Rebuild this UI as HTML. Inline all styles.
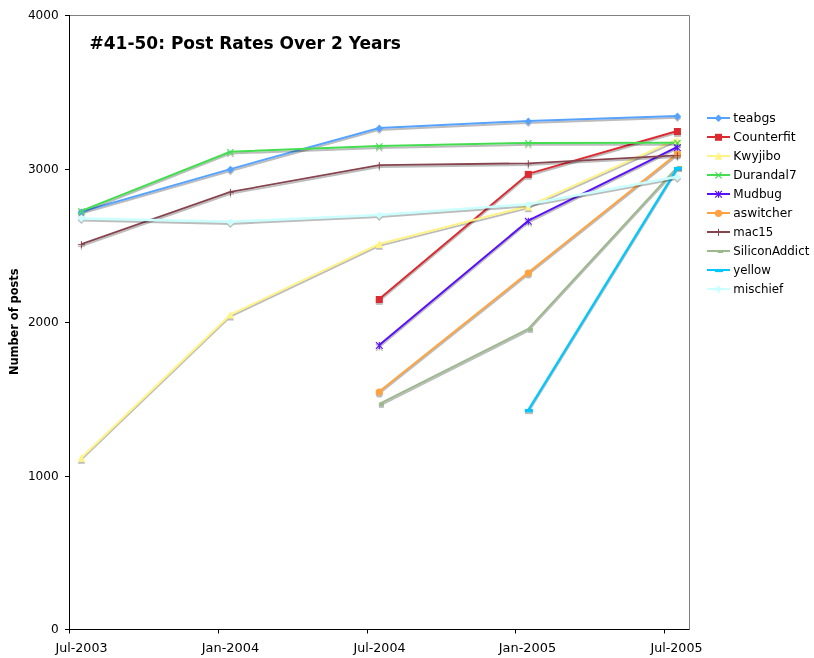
<!DOCTYPE html>
<html lang="en">
<head>
<meta charset="utf-8">
<title>#41-50: Post Rates Over 2 Years</title>
<style>
html,body{margin:0;padding:0;background:#fff;}
body{width:814px;height:658px;overflow:hidden;}
svg{display:block;will-change:transform;}
text{font-family:"DejaVu Sans","Liberation Sans",sans-serif;fill:#000;}
.t{font-size:12px;}
.b{font-weight:bold;}
</style>
</head>
<body>
<svg width="814" height="658" viewBox="0 0 814 658">
<rect width="814" height="658" fill="#fff"/>

<path d="M69.5 15.5H689.5V629.5" fill="none" stroke="#808080" stroke-width="1"/>
<g transform="translate(0,1.9)" opacity="0.26">
<path d="M81.40 211.70L230.40 169.10L379.30 128.00L528.30 121.00L677.40 115.90" fill="none" stroke="#000" stroke-width="2.0" stroke-linejoin="round"/>
<path d="M77.60 212.20L81.40 208.40L85.20 212.20L81.40 216.00Z" fill="#000"/>
<path d="M226.60 169.60L230.40 165.80L234.20 169.60L230.40 173.40Z" fill="#000"/>
<path d="M375.50 128.40L379.30 124.60L383.10 128.40L379.30 132.20Z" fill="#000"/>
<path d="M524.50 121.40L528.30 117.60L532.10 121.40L528.30 125.20Z" fill="#000"/>
<path d="M673.60 116.40L677.40 112.60L681.20 116.40L677.40 120.20Z" fill="#000"/>
</g>
<path d="M81.40 211.70L230.40 169.10L379.30 128.00L528.30 121.00L677.40 115.90" fill="none" stroke="#56A2FF" stroke-width="2.0" stroke-linejoin="round"/>
<g transform="translate(0,1.9)" opacity="0.26">
<path d="M379.30 299.00L528.30 173.90L677.40 131.00" fill="none" stroke="#000" stroke-width="2.0" stroke-linejoin="round"/>
<rect x="375.80" y="296.00" width="7" height="7" fill="#000"/>
<rect x="524.80" y="170.90" width="7" height="7" fill="#000"/>
<rect x="673.90" y="128.00" width="7" height="7" fill="#000"/>
</g>
<path d="M379.30 299.00L528.30 173.90L677.40 131.00" fill="none" stroke="#DC2A31" stroke-width="2.0" stroke-linejoin="round"/>
<g transform="translate(0,1.9)" opacity="0.26">
<path d="M81.40 457.70L230.40 314.70L379.30 244.00L528.30 206.20L677.40 139.20" fill="none" stroke="#000" stroke-width="2.0" stroke-linejoin="round"/>
<path d="M81.40 454.30L85.10 461.90L77.70 461.90Z" fill="#000"/>
<path d="M230.40 311.00L234.10 318.60L226.70 318.60Z" fill="#000"/>
<path d="M379.30 240.30L383.00 247.90L375.60 247.90Z" fill="#000"/>
<path d="M528.30 202.80L532.00 210.40L524.60 210.40Z" fill="#000"/>
<path d="M677.40 136.80L681.10 144.40L673.70 144.40Z" fill="#000"/>
</g>
<path d="M81.40 457.70L230.40 314.70L379.30 244.00L528.30 206.20L677.40 139.20" fill="none" stroke="#FFF385" stroke-width="2.0" stroke-linejoin="round"/>
<g transform="translate(0,1.9)" opacity="0.26">
<path d="M81.40 210.90L230.40 151.70L379.30 146.00L528.30 142.90L677.40 142.80" fill="none" stroke="#000" stroke-width="2.0" stroke-linejoin="round"/>
<path d="M78.30 208.30L84.50 214.50M78.30 214.50L84.50 208.30" stroke="#000" stroke-width="1.15" fill="none"/>
<path d="M227.30 149.10L233.50 155.30M227.30 155.30L233.50 149.10" stroke="#000" stroke-width="1.15" fill="none"/>
<path d="M376.20 143.30L382.40 149.50M376.20 149.50L382.40 143.30" stroke="#000" stroke-width="1.15" fill="none"/>
<path d="M525.20 140.20L531.40 146.40M525.20 146.40L531.40 140.20" stroke="#000" stroke-width="1.15" fill="none"/>
<path d="M674.30 140.00L680.50 146.20M674.30 146.20L680.50 140.00" stroke="#000" stroke-width="1.15" fill="none"/>
</g>
<path d="M81.40 210.90L230.40 151.70L379.30 146.00L528.30 142.90L677.40 142.80" fill="none" stroke="#42DE50" stroke-width="2.0" stroke-linejoin="round"/>
<g transform="translate(0,1.9)" opacity="0.26">
<path d="M379.30 345.00L528.30 220.70L677.40 146.80" fill="none" stroke="#000" stroke-width="2.0" stroke-linejoin="round"/>
<path d="M375.90 342.10L382.70 348.90M375.90 348.90L382.70 342.10M379.30 342.10L379.30 348.90" stroke="#000" stroke-width="1.15" fill="none"/>
<path d="M524.90 217.80L531.70 224.60M524.90 224.60L531.70 217.80M528.30 217.80L528.30 224.60" stroke="#000" stroke-width="1.15" fill="none"/>
<path d="M674.00 144.40L680.80 151.20M674.00 151.20L680.80 144.40M677.40 144.40L677.40 151.20" stroke="#000" stroke-width="1.15" fill="none"/>
</g>
<path d="M379.30 345.00L528.30 220.70L677.40 146.80" fill="none" stroke="#5A10FA" stroke-width="2.0" stroke-linejoin="round"/>
<g transform="translate(0,1.9)" opacity="0.26">
<path d="M379.30 391.50L528.30 272.60L677.40 153.50" fill="none" stroke="#000" stroke-width="2.0" stroke-linejoin="round"/>
<circle cx="379.30" cy="392.00" r="3.6" fill="#000"/>
<circle cx="528.30" cy="273.10" r="3.6" fill="#000"/>
<circle cx="677.40" cy="154.20" r="3.6" fill="#000"/>
</g>
<path d="M379.30 391.50L528.30 272.60L677.40 153.50" fill="none" stroke="#FFA23F" stroke-width="2.0" stroke-linejoin="round"/>
<g transform="translate(0,1.9)" opacity="0.26">
<path d="M81.40 244.20L230.40 191.90L379.30 165.10L528.30 163.30L677.40 155.30" fill="none" stroke="#000" stroke-width="1.8" stroke-linejoin="round"/>
<path d="M77.90 244.70L84.90 244.70M81.40 241.20L81.40 248.20" stroke="#000" stroke-width="1" fill="none"/>
<path d="M226.90 192.40L233.90 192.40M230.40 188.90L230.40 195.90" stroke="#000" stroke-width="1" fill="none"/>
<path d="M375.80 165.60L382.80 165.60M379.30 162.10L379.30 169.10" stroke="#000" stroke-width="1" fill="none"/>
<path d="M524.80 163.80L531.80 163.80M528.30 160.30L528.30 167.30" stroke="#000" stroke-width="1" fill="none"/>
<path d="M673.90 155.80L680.90 155.80M677.40 152.30L677.40 159.30" stroke="#000" stroke-width="1" fill="none"/>
</g>
<path d="M81.40 244.20L230.40 191.90L379.30 165.10L528.30 163.30L677.40 155.30" fill="none" stroke="#86444F" stroke-width="1.8" stroke-linejoin="round"/>
<g transform="translate(0,1.9)" opacity="0.26">
<path d="M379.30 403.90L528.30 328.90L677.40 167.10" fill="none" stroke="#000" stroke-width="2.0" stroke-linejoin="round"/>
<rect x="378.90" y="402.80" width="5" height="3.2" fill="#000"/>
<rect x="527.90" y="327.80" width="5" height="3.2" fill="#000"/>
<rect x="677.00" y="166.00" width="5" height="3.2" fill="#000"/>
</g>
<path d="M379.30 403.90L528.30 328.90L677.40 167.10" fill="none" stroke="#9CB98D" stroke-width="2.0" stroke-linejoin="round"/>
<g transform="translate(0,1.9)" opacity="0.26">
<path d="M528.30 410.10L677.40 168.10" fill="none" stroke="#000" stroke-width="2.3" stroke-linejoin="round"/>
<rect x="524.90" y="408.95" width="8" height="3.3" fill="#000"/>
<rect x="674.00" y="166.95" width="8" height="3.3" fill="#000"/>
</g>
<path d="M528.30 410.10L677.40 168.10" fill="none" stroke="#00C8FF" stroke-width="2.3" stroke-linejoin="round"/>
<g transform="translate(0,1.9)" opacity="0.26">
<path d="M81.40 218.40L230.40 221.80L379.30 214.90L528.30 204.20L677.40 176.70" fill="none" stroke="#000" stroke-width="2.5" stroke-linejoin="round"/>
<path d="M77.60 218.40L81.40 214.60L85.20 218.40L81.40 222.20Z" fill="#000"/>
<path d="M226.60 222.40L230.40 218.60L234.20 222.40L230.40 226.20Z" fill="#000"/>
<path d="M375.50 215.30L379.30 211.50L383.10 215.30L379.30 219.10Z" fill="#000"/>
<path d="M524.50 204.70L528.30 200.90L532.10 204.70L528.30 208.50Z" fill="#000"/>
<path d="M673.60 177.20L677.40 173.40L681.20 177.20L677.40 181.00Z" fill="#000"/>
</g>
<path d="M81.40 218.40L230.40 221.80L379.30 214.90L528.30 204.20L677.40 176.70" fill="none" stroke="#CCFFFF" stroke-width="2.5" stroke-linejoin="round"/>
<path d="M77.60 212.20L81.40 208.40L85.20 212.20L81.40 216.00Z" fill="#56A2FF"/>
<path d="M226.60 169.60L230.40 165.80L234.20 169.60L230.40 173.40Z" fill="#56A2FF"/>
<path d="M375.50 128.40L379.30 124.60L383.10 128.40L379.30 132.20Z" fill="#56A2FF"/>
<path d="M524.50 121.40L528.30 117.60L532.10 121.40L528.30 125.20Z" fill="#56A2FF"/>
<path d="M673.60 116.40L677.40 112.60L681.20 116.40L677.40 120.20Z" fill="#56A2FF"/>
<rect x="375.80" y="296.00" width="7" height="7" fill="#DC2A31"/>
<rect x="524.80" y="170.90" width="7" height="7" fill="#DC2A31"/>
<rect x="673.90" y="128.00" width="7" height="7" fill="#DC2A31"/>
<path d="M81.40 454.30L85.10 461.90L77.70 461.90Z" fill="#FFF385"/>
<path d="M230.40 311.00L234.10 318.60L226.70 318.60Z" fill="#FFF385"/>
<path d="M379.30 240.30L383.00 247.90L375.60 247.90Z" fill="#FFF385"/>
<path d="M528.30 202.80L532.00 210.40L524.60 210.40Z" fill="#FFF385"/>
<path d="M677.40 136.80L681.10 144.40L673.70 144.40Z" fill="#FFF385"/>
<path d="M78.30 208.30L84.50 214.50M78.30 214.50L84.50 208.30" stroke="#42DE50" stroke-width="1.15" fill="none"/>
<path d="M227.30 149.10L233.50 155.30M227.30 155.30L233.50 149.10" stroke="#42DE50" stroke-width="1.15" fill="none"/>
<path d="M376.20 143.30L382.40 149.50M376.20 149.50L382.40 143.30" stroke="#42DE50" stroke-width="1.15" fill="none"/>
<path d="M525.20 140.20L531.40 146.40M525.20 146.40L531.40 140.20" stroke="#42DE50" stroke-width="1.15" fill="none"/>
<path d="M674.30 140.00L680.50 146.20M674.30 146.20L680.50 140.00" stroke="#42DE50" stroke-width="1.15" fill="none"/>
<path d="M375.90 342.10L382.70 348.90M375.90 348.90L382.70 342.10M379.30 342.10L379.30 348.90" stroke="#5A10FA" stroke-width="1.15" fill="none"/>
<path d="M524.90 217.80L531.70 224.60M524.90 224.60L531.70 217.80M528.30 217.80L528.30 224.60" stroke="#5A10FA" stroke-width="1.15" fill="none"/>
<path d="M674.00 144.40L680.80 151.20M674.00 151.20L680.80 144.40M677.40 144.40L677.40 151.20" stroke="#5A10FA" stroke-width="1.15" fill="none"/>
<circle cx="379.30" cy="392.00" r="3.6" fill="#FFA23F"/>
<circle cx="528.30" cy="273.10" r="3.6" fill="#FFA23F"/>
<circle cx="677.40" cy="154.20" r="3.6" fill="#FFA23F"/>
<path d="M77.90 244.70L84.90 244.70M81.40 241.20L81.40 248.20" stroke="#86444F" stroke-width="1" fill="none"/>
<path d="M226.90 192.40L233.90 192.40M230.40 188.90L230.40 195.90" stroke="#86444F" stroke-width="1" fill="none"/>
<path d="M375.80 165.60L382.80 165.60M379.30 162.10L379.30 169.10" stroke="#86444F" stroke-width="1" fill="none"/>
<path d="M524.80 163.80L531.80 163.80M528.30 160.30L528.30 167.30" stroke="#86444F" stroke-width="1" fill="none"/>
<path d="M673.90 155.80L680.90 155.80M677.40 152.30L677.40 159.30" stroke="#86444F" stroke-width="1" fill="none"/>
<rect x="378.90" y="402.80" width="5" height="3.2" fill="#9CB98D"/>
<rect x="527.90" y="327.80" width="5" height="3.2" fill="#9CB98D"/>
<rect x="677.00" y="166.00" width="5" height="3.2" fill="#9CB98D"/>
<rect x="524.90" y="408.95" width="8" height="3.3" fill="#00C8FF"/>
<rect x="674.00" y="166.95" width="8" height="3.3" fill="#00C8FF"/>
<path d="M77.60 218.40L81.40 214.60L85.20 218.40L81.40 222.20Z" fill="#CCFFFF"/>
<path d="M226.60 222.40L230.40 218.60L234.20 222.40L230.40 226.20Z" fill="#CCFFFF"/>
<path d="M375.50 215.30L379.30 211.50L383.10 215.30L379.30 219.10Z" fill="#CCFFFF"/>
<path d="M524.50 204.70L528.30 200.90L532.10 204.70L528.30 208.50Z" fill="#CCFFFF"/>
<path d="M673.60 177.20L677.40 173.40L681.20 177.20L677.40 181.00Z" fill="#CCFFFF"/>
<path d="M69.5 15V633M65 629.5H689.5" fill="none" stroke="#000" stroke-width="1"/>
<path d="M65 629.5H70" stroke="#000" stroke-width="1"/>
<text class="t" x="51.00" y="632.80" textLength="7.70" lengthAdjust="spacingAndGlyphs">0</text>
<path d="M65 476.5H70" stroke="#000" stroke-width="1"/>
<text class="t" x="27.90" y="479.80" textLength="30.80" lengthAdjust="spacingAndGlyphs">1000</text>
<path d="M65 322.5H70" stroke="#000" stroke-width="1"/>
<text class="t" x="27.90" y="325.80" textLength="30.80" lengthAdjust="spacingAndGlyphs">2000</text>
<path d="M65 169.5H70" stroke="#000" stroke-width="1"/>
<text class="t" x="27.90" y="172.80" textLength="30.80" lengthAdjust="spacingAndGlyphs">3000</text>
<path d="M65 15.5H70" stroke="#000" stroke-width="1"/>
<text class="t" x="27.90" y="18.80" textLength="30.80" lengthAdjust="spacingAndGlyphs">4000</text>
<path d="M69.5 629V633.5" stroke="#000" stroke-width="1"/>
<text class="t" x="55.50" y="651.5" textLength="52" lengthAdjust="spacingAndGlyphs">Jul-2003</text>
<path d="M218.5 629V633.5" stroke="#000" stroke-width="1"/>
<text class="t" x="201.75" y="651.5" textLength="57.5" lengthAdjust="spacingAndGlyphs">Jan-2004</text>
<path d="M367.5 629V633.5" stroke="#000" stroke-width="1"/>
<text class="t" x="353.50" y="651.5" textLength="52" lengthAdjust="spacingAndGlyphs">Jul-2004</text>
<path d="M515.5 629V633.5" stroke="#000" stroke-width="1"/>
<text class="t" x="498.75" y="651.5" textLength="57.5" lengthAdjust="spacingAndGlyphs">Jan-2005</text>
<path d="M664.5 629V633.5" stroke="#000" stroke-width="1"/>
<text class="t" x="650.50" y="651.5" textLength="52" lengthAdjust="spacingAndGlyphs">Jul-2005</text>
<text class="b" style="font-size:17px" x="89.5" y="49" textLength="311.5" lengthAdjust="spacingAndGlyphs">#41-50: Post Rates Over 2 Years</text>
<text class="b" style="font-size:11.5px" transform="translate(18.3,375) rotate(-90)" textLength="106.5" lengthAdjust="spacingAndGlyphs">Number of posts</text>
<path d="M707 118H730" stroke="#56A2FF" stroke-width="2" fill="none"/>
<path d="M714.70 118.30L718.50 114.50L722.30 118.30L718.50 122.10Z" fill="#56A2FF"/>
<text class="t" x="733.3" y="122.3" textLength="42.5" lengthAdjust="spacingAndGlyphs">teabgs</text>
<path d="M707 137H730" stroke="#DC2A31" stroke-width="2" fill="none"/>
<rect x="715.00" y="133.80" width="7" height="7" fill="#DC2A31"/>
<text class="t" x="733.3" y="141.3" textLength="62.3" lengthAdjust="spacingAndGlyphs">Counterfit</text>
<path d="M707 156H730" stroke="#FFF385" stroke-width="2" fill="none"/>
<path d="M718.50 152.10L722.20 159.70L714.80 159.70Z" fill="#FFF385"/>
<text class="t" x="733.3" y="160.3" textLength="47.5" lengthAdjust="spacingAndGlyphs">Kwyjibo</text>
<path d="M707 175H730" stroke="#42DE50" stroke-width="2" fill="none"/>
<path d="M715.40 172.20L721.60 178.40M715.40 178.40L721.60 172.20" stroke="#42DE50" stroke-width="1.15" fill="none"/>
<text class="t" x="733.3" y="179.3" textLength="63.3" lengthAdjust="spacingAndGlyphs">Durandal7</text>
<path d="M707 194H730" stroke="#5A10FA" stroke-width="2" fill="none"/>
<path d="M715.10 190.90L721.90 197.70M715.10 197.70L721.90 190.90M718.50 190.90L718.50 197.70" stroke="#5A10FA" stroke-width="1.15" fill="none"/>
<text class="t" x="733.3" y="198.3" textLength="48.5" lengthAdjust="spacingAndGlyphs">Mudbug</text>
<path d="M707 213H730" stroke="#FFA23F" stroke-width="2" fill="none"/>
<circle cx="718.50" cy="213.30" r="3.6" fill="#FFA23F"/>
<text class="t" x="733.3" y="217.3" textLength="59" lengthAdjust="spacingAndGlyphs">aswitcher</text>
<path d="M707 232H730" stroke="#86444F" stroke-width="2" fill="none"/>
<path d="M715.00 232.30L722.00 232.30M718.50 228.80L718.50 235.80" stroke="#86444F" stroke-width="1" fill="none"/>
<text class="t" x="733.3" y="236.3" textLength="40" lengthAdjust="spacingAndGlyphs">mac15</text>
<path d="M707 251H730" stroke="#9CB98D" stroke-width="2" fill="none"/>
<rect x="717.70" y="250.30" width="5.4" height="2.7" fill="#9CB98D"/>
<text class="t" x="733.3" y="255.3" textLength="76" lengthAdjust="spacingAndGlyphs">SiliconAddict</text>
<path d="M707 270H730" stroke="#00C8FF" stroke-width="2" fill="none"/>
<rect x="715.00" y="269.30" width="8" height="2.8" fill="#00C8FF"/>
<text class="t" x="733.3" y="274.3" textLength="37.5" lengthAdjust="spacingAndGlyphs">yellow</text>
<path d="M707 289H730" stroke="#CCFFFF" stroke-width="2" fill="none"/>
<path d="M714.70 289.30L718.50 285.50L722.30 289.30L718.50 293.10Z" fill="#CCFFFF"/>
<text class="t" x="733.3" y="293.3" textLength="50" lengthAdjust="spacingAndGlyphs">mischief</text>
</svg>
</body>
</html>
